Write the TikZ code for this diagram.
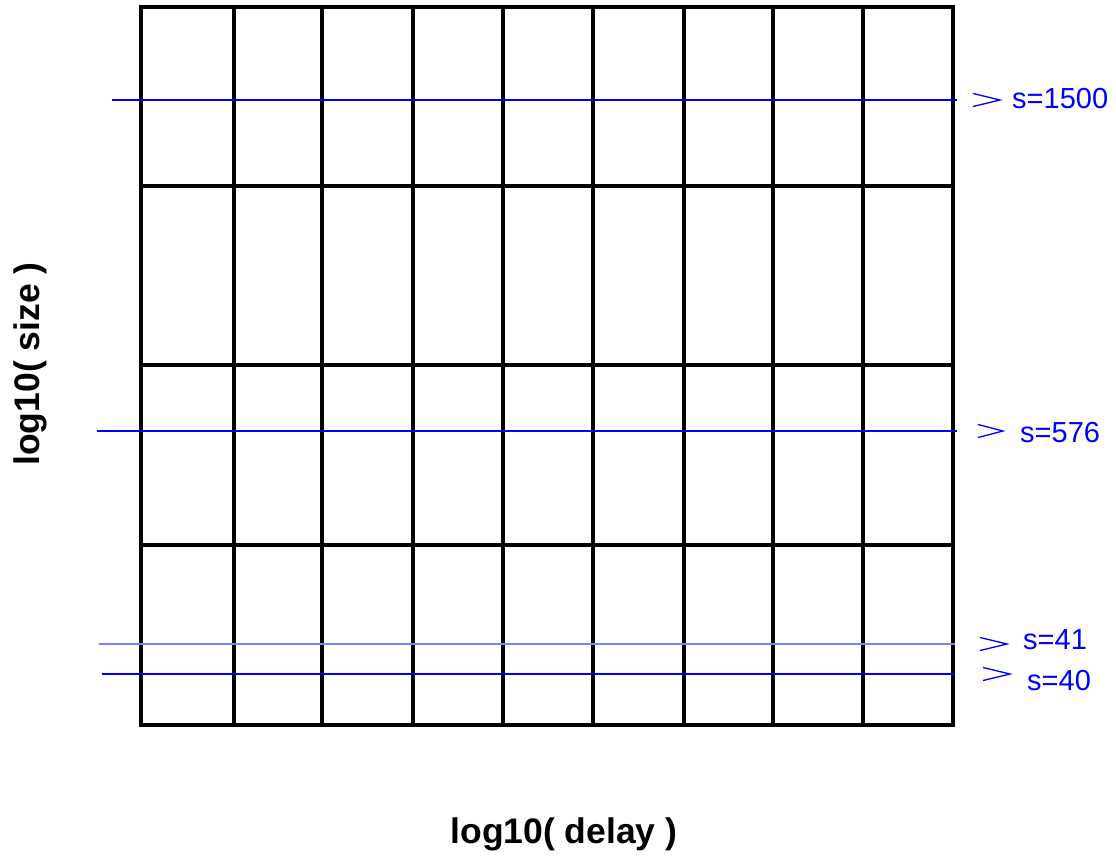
\documentclass[tikz,border=0pt]{standalone}
\usepackage{fontspec}
\setmainfont{Liberation Sans}
\begin{document}
\begin{tikzpicture}[x=1pt,y=-1pt,
  grid/.style={line width=4pt,black,line cap=rect},
  sline/.style={blue,line width=1.3pt},
  sline2/.style={blue!50,line width=2.2pt},
  vhead/.style={blue,line width=1.3pt},
  slabel/.style={anchor=west,inner sep=0pt,text=blue,font=\fontsize{29}{30}\selectfont},
  axlabel/.style={inner sep=0pt,font=\bfseries\fontsize{35.5}{38}\selectfont}]
\useasboundingbox (0,0) rectangle (1116,855);
% grid
\foreach \x in {141,234,322,413,503,593,684,773,863,953}
  \draw[grid] (\x,7) -- (\x,725);
\foreach \y in {7,186,365,545,725}
  \draw[grid] (141,\y) -- (953,\y);
% blue size lines
\coordinate (a1) at (112,100); \coordinate (b1) at (957,100);
\coordinate (a2) at (97,431);  \coordinate (b2) at (957,431);
\coordinate (a3) at (99,644);  \coordinate (b3) at (955,644);
\coordinate (a4) at (102,674); \coordinate (b4) at (955,674);
\draw[sline] (a1) -- (b1);
\draw[sline] (a2) -- (b2);
\draw[sline2] (a3) -- (b3);
\draw[sline] (a4) -- (b4);
% open arrowheads
\draw[vhead] (973,93.5) -- (1000,100) -- (973,106.5);
\draw[vhead] (978,424.5) -- (1003,431) -- (978,437.5);
\draw[vhead] (980,637.5) -- (1007,644) -- (980,650.5);
\draw[vhead] (983,667.5) -- (1010,674) -- (983,680.5);
% labels
\node[slabel] (l1) at (1012,99) {s=1500};
\node[slabel] (l2) at (1020,433) {s=576};
\node[slabel] (l3) at (1023,640) {s=41};
\node[slabel] (l4) at (1027,681) {s=40};
\node[axlabel] (xl) at (564,834) {log10( delay )};
\node[axlabel,rotate=90] (yl) at (30,364) {log10( size )};
\end{tikzpicture}
\end{document}
